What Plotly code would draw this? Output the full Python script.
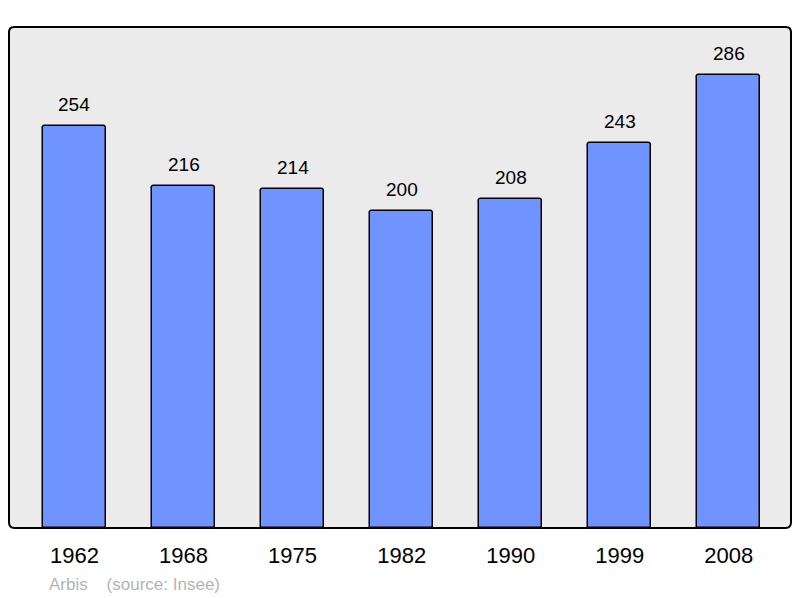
import plotly.graph_objects as go

years = ["1962", "1968", "1975", "1982", "1990", "1999", "2008"]
population = [254, 216, 214, 200, 208, 243, 286]
commune = "Arbis"
source = "(source: Insee)"

xs = list(range(len(years)))

fig = go.Figure()
fig.add_trace(go.Bar(
    x=xs, y=population, width=0.576,
    marker=dict(color="#7094ff", line=dict(color="black", width=1.5), cornerradius=3),
    hoverinfo="skip",
))

for xi, v in zip(xs, population):
    fig.add_annotation(x=xi, y=v, text=str(v), showarrow=False, yanchor="bottom",
                       yshift=9, font=dict(size=19, color="black", family="Liberation Sans, Arial"))

fig.add_annotation(xref="paper", yref="paper", x=0.049, y=-0.112, xanchor="left", yanchor="middle",
                   text=commune + "\u00a0\u00a0\u00a0\u00a0" + source, showarrow=False,
                   font=dict(size=17, color="#b4b4b4", family="Liberation Sans, Arial"))

# rounded plot frame
r = 0.007
ry = r * 782 / 501
fig.add_shape(type="path", xref="paper", yref="paper", layer="above",
              path=(f"M {r},0 L {1-r},0 Q 1,0 1,{ry} L 1,{1-ry} Q 1,1 {1-r},1 "
                    f"L {r},1 Q 0,1 0,{1-ry} L 0,{ry} Q 0,0 {r},0 Z"),
              line=dict(color="black", width=2))

fig.update_layout(
    width=784, height=590,
    margin=dict(l=1, r=1, t=19, b=70),
    paper_bgcolor="white", plot_bgcolor="#ebebeb",
    showlegend=False,
    bargap=0,
    xaxis=dict(range=[-0.6, 6.57], tickvals=xs, ticktext=years, showgrid=False, zeroline=False,
               ticks="outside", ticklen=8, tickcolor="rgba(0,0,0,0)",
               tickfont=dict(size=22, color="black", family="Liberation Sans, Arial"), fixedrange=True),
    yaxis=dict(range=[0, 316.5], showgrid=False, zeroline=False, showticklabels=False, fixedrange=True),
)

fig.write_html("out.html")
